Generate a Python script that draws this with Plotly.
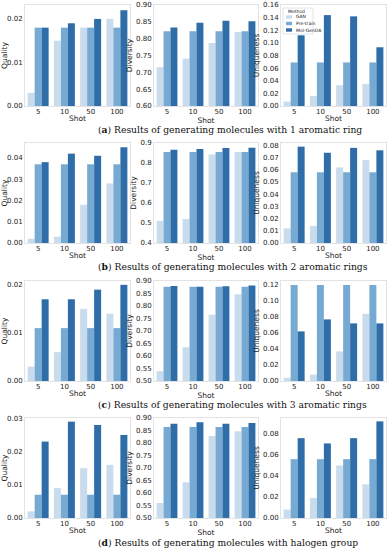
import plotly.graph_objects as go

shots = ["5", "10", "50", "100"]
methods = ["GAN", "Pre-train", "Mol-GenDA"]
metrics = ["Quality", "Diversity", "Uniqueness"]
colors = ["#c9dcee", "#76aad2", "#2e6da8"]

captions = [
    "(<b>a</b>) Results of generating molecules with 1 aromatic ring",
    "(<b>b</b>) Results of generating molecules with 2 aromatic rings",
    "(<b>c</b>) Results of generating molecules with 3 aromatic rings",
    "(<b>d</b>) Results of generating molecules with halogen group",
]

# values per method: GAN, Pre-train, Mol-GenDA (over shots 5, 10, 50, 100)
ring1_quality = [[0.003, 0.015, 0.018, 0.020], [0.018, 0.018, 0.018, 0.018], [0.018, 0.019, 0.020, 0.022]]
ring1_diversity = [[0.715, 0.740, 0.787, 0.820], [0.822, 0.822, 0.822, 0.822], [0.833, 0.847, 0.853, 0.852]]
ring1_uniqueness = [[0.007, 0.016, 0.033, 0.035], [0.069, 0.069, 0.069, 0.069], [0.112, 0.144, 0.142, 0.093]]

ring2_quality = [[0.002, 0.003, 0.018, 0.028], [0.037, 0.037, 0.037, 0.037], [0.038, 0.042, 0.041, 0.045]]
ring2_diversity = [[0.510, 0.520, 0.843, 0.855], [0.855, 0.855, 0.855, 0.855], [0.866, 0.870, 0.875, 0.876]]
ring2_uniqueness = [[0.012, 0.014, 0.062, 0.068], [0.058, 0.058, 0.058, 0.058], [0.079, 0.074, 0.078, 0.076]]

ring3_quality = [[0.003, 0.006, 0.015, 0.014], [0.011, 0.011, 0.011, 0.011], [0.017, 0.017, 0.019, 0.020]]
ring3_diversity = [[0.540, 0.635, 0.765, 0.847], [0.877, 0.877, 0.877, 0.877], [0.880, 0.877, 0.879, 0.882]]
ring3_uniqueness = [[0.004, 0.008, 0.037, 0.084], [0.120, 0.120, 0.120, 0.120], [0.062, 0.077, 0.072, 0.072]]

halogen_quality = [[0.002, 0.009, 0.015, 0.016], [0.007, 0.007, 0.007, 0.007], [0.023, 0.029, 0.028, 0.025]]
halogen_diversity = [[0.560, 0.643, 0.828, 0.847], [0.864, 0.864, 0.864, 0.864], [0.877, 0.883, 0.877, 0.880]]
halogen_uniqueness = [[0.008, 0.019, 0.050, 0.032], [0.056, 0.056, 0.056, 0.056], [0.076, 0.071, 0.076, 0.092]]

panels = [
    [ring1_quality, ring1_diversity, ring1_uniqueness],
    [ring2_quality, ring2_diversity, ring2_uniqueness],
    [ring3_quality, ring3_diversity, ring3_uniqueness],
    [halogen_quality, halogen_diversity, halogen_uniqueness],
]

y_ranges = [
    [[0, 0.0232], [0.6, 0.9], [0, 0.16]],
    [[0, 0.047], [0.4, 0.9], [0, 0.082]],
    [[0, 0.0208], [0.5, 0.9], [0, 0.125]],
    [[0, 0.0301], [0.5, 0.9], [0, 0.0952]],
]
y_dticks = [
    [0.01, 0.05, 0.02],
    [0.01, 0.1, 0.01],
    [0.01, 0.05, 0.02],
    [0.01, 0.05, 0.02],
]
y_formats = [
    [".2f", ".2f", ".2f"],
    [".2f", ".1f", ".2f"],
    [".2f", ".2f", ".2f"],
    [".2f", ".2f", ".2f"],
]

W, H = 389, 550
col_px = [(25, 130), (154, 258), (281, 386)]
row_px = [(5, 106), (143, 243), (281, 381), (418, 518)]
caption_y = [129.5, 266.5, 404.5, 542]

FONT = "DejaVu Sans"
fig = go.Figure()
layout = {}
for r in range(4):
    for c in range(3):
        idx = r * 3 + c + 1
        sfx = "" if idx == 1 else str(idx)
        data = panels[r][c]
        for m in range(3):
            fig.add_trace(go.Bar(
                x=shots, y=data[m], name=methods[m],
                marker=dict(color=colors[m], line=dict(width=0)),
                xaxis="x" + sfx, yaxis="y" + sfx, showlegend=False,
            ))
        x0, x1 = col_px[c]
        y0, y1 = row_px[r]
        layout["xaxis" + sfx] = dict(
            domain=[x0 / W, x1 / W], anchor="y" + sfx, type="category",
            showline=True, mirror=True, linecolor="#e3e3e3", linewidth=1,
            showgrid=False, ticks="", ticklabelstandoff=-1,
            tickfont=dict(family=FONT, size=7, color="#222"),
            title=dict(text="Shot", font=dict(family=FONT, size=7.5, color="#222"), standoff=0),
            range=[-0.5, 3.5], fixedrange=True, automargin=False,
        )
        layout["yaxis" + sfx] = dict(
            domain=[1 - y1 / H, 1 - y0 / H], anchor="x" + sfx,
            range=y_ranges[r][c], dtick=y_dticks[r][c], tick0=0, tickformat=y_formats[r][c],
            showline=True, mirror=True, linecolor="#e3e3e3", linewidth=1,
            showgrid=False, zeroline=False, ticks="", automargin=False,
            tickfont=dict(family=FONT, size=7, color="#222"),
            title=dict(text=metrics[c], font=dict(family=FONT, size=7.5, color="#222"), standoff=2),
        )

annotations = []
for r in range(4):
    annotations.append(dict(
        text=captions[r], x=95.5 / W, y=1 - caption_y[r] / H, xref="paper", yref="paper",
        showarrow=False, xanchor="left", yanchor="middle",
        font=dict(family="DejaVu Serif", size=9.2, color="#111"),
    ))

# legend (Method) inside the first Uniqueness panel
lx, ly = 283, 8
shapes = [dict(type="rect", xref="paper", yref="paper",
               x0=lx / W, x1=(lx + 30) / W, y0=1 - (ly + 26) / H, y1=1 - ly / H,
               line=dict(color="#dddddd", width=0.8), fillcolor="rgba(255,255,255,0.85)")]
annotations.append(dict(text="Method", x=(lx + 3) / W, y=1 - (ly + 3.5) / H, xref="paper", yref="paper",
                        showarrow=False, xanchor="left", yanchor="middle",
                        font=dict(family=FONT, size=4.5, color="#222")))
for m in range(3):
    yc = ly + 9 + m * 6.5
    shapes.append(dict(type="rect", xref="paper", yref="paper",
                       x0=(lx + 3) / W, x1=(lx + 9) / W, y0=1 - (yc + 1.7) / H, y1=1 - (yc - 1.7) / H,
                       line=dict(width=0), fillcolor=colors[m]))
    annotations.append(dict(text=methods[m], x=(lx + 11) / W, y=1 - yc / H, xref="paper", yref="paper",
                            showarrow=False, xanchor="left", yanchor="middle",
                            font=dict(family=FONT, size=4.5, color="#222")))

fig.update_layout(
    **layout,
    width=W, height=H, margin=dict(l=0, r=0, t=0, b=0),
    paper_bgcolor="white", plot_bgcolor="white",
    barmode="group", bargap=0.2, bargroupgap=0,
    annotations=annotations, shapes=shapes, showlegend=False,
)
fig.write_html("out.html", config={"displayModeBar": False},
               post_script="document.body.style.margin='0';document.body.style.padding='0';")
